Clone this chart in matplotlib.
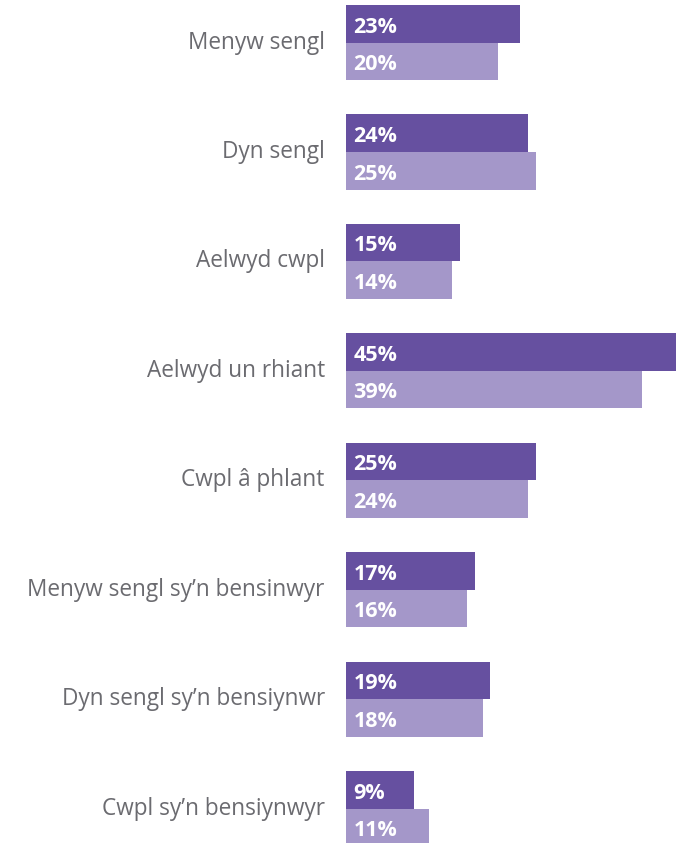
import numpy as np
import matplotlib.pyplot as plt

# categorias e valores (%)
categorias = ["Menyw sengl", "Dyn sengl", "Aelwyd cwpl", "Aelwyd un rhiant",
              "Cwpl â phlant", "Menyw sengl sy’n bensinwyr",
              "Dyn sengl sy’n bensiynwr", "Cwpl sy’n bensiynwyr"]
serie_a = [23, 24, 15, 45, 25, 17, 19, 9]
serie_b = [20, 25, 14, 39, 24, 16, 18, 11]

cor_a = "#6650A0"
cor_b = "#A497C9"
cor_texto = "#6B6B70"

fig = plt.figure(figsize=(6.76, 8.43), dpi=100)
ax = fig.add_axes([346 / 676, 0, 330 / 676, 1])

y = np.arange(len(categorias))
h = 0.343
ax.barh(y - h / 2, serie_a, height=h, color=cor_a)
ax.barh(y + h / 2, serie_b, height=h, color=cor_b)

for i in range(len(categorias)):
    ax.text(1.0, y[i] - h / 2 + 0.03, f"{serie_a[i]}%", color="white", fontsize=15.5,
            fontweight="bold", family="Open Sans", va="center", ha="left")
    ax.text(1.0, y[i] + h / 2 + 0.03, f"{serie_b[i]}%", color="white", fontsize=15.5,
            fontweight="bold", family="Open Sans", va="center", ha="left")
    ax.text(-2.8, y[i], categorias[i], color=cor_texto, fontsize=16.3,
            family="Open Sans", va="center", ha="right", clip_on=False)

ax.set_xlim(0, 43.5)
ax.set_ylim(7.314, -0.3885)
ax.axis("off")

fig.savefig("out.png", dpi=100)
